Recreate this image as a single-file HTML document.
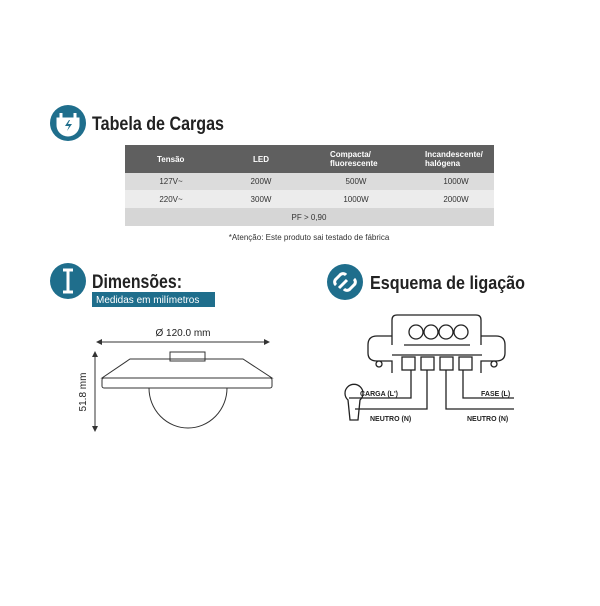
<!DOCTYPE html>
<html><head><meta charset="utf-8"><style>
body{margin:0;background:#fff;width:600px;height:601px;overflow:hidden;font-family:"Liberation Sans",sans-serif}
</style></head><body>
<svg width="600" height="601" xmlns="http://www.w3.org/2000/svg" font-family="Liberation Sans, sans-serif">
<!-- Tabela -->
<circle cx="68" cy="123" r="18" fill="#1f6e8c"/>
<path d="M61 113v6M75 113v6M58 119h20v6a10 10 0 0 1-20 0z" stroke="#fff" stroke-width="3" fill="#fff"/>
<path d="M69 120l-4 6h4l-2 5 5-7h-4l2-4z" fill="#1f6e8c"/>
<text x="92" y="130" font-size="19" font-weight="bold" fill="#222" textLength="132" lengthAdjust="spacingAndGlyphs">Tabela de Cargas</text>
<rect x="125" y="145" width="369" height="28" fill="#5f5f5f"/>
<rect x="125" y="173" width="369" height="17" fill="#dcdcdc"/>
<rect x="125" y="190" width="369" height="18" fill="#ececec"/>
<rect x="125" y="208" width="369" height="18" fill="#d6d6d6"/>
<g font-size="8" fill="#fff" font-weight="bold">
<text x="157" y="162">Tensão</text><text x="253" y="162">LED</text>
<text x="330" y="157">Compacta/</text><text x="330" y="166">fluorescente</text>
<text x="425" y="157">Incandescente/</text><text x="425" y="166">halógena</text></g>
<g font-size="8" fill="#333" text-anchor="middle">
<text x="171" y="184">127V~</text><text x="261" y="184">200W</text><text x="356" y="184">500W</text><text x="456" y="184">1000W</text>
<text x="171" y="202">220V~</text><text x="261" y="202">300W</text><text x="356" y="202">1000W</text><text x="456" y="202">2000W</text>
<text x="309" y="220">PF &gt; 0,90</text>
<text x="309" y="240">*Atenção: Este produto sai testado de fábrica</text></g>
<!-- Dimensoes -->
<circle cx="68" cy="281" r="18" fill="#1f6e8c"/>
<path d="M68 270v22M63 270h10M63 292h10" stroke="#fff" stroke-width="3"/>
<text x="92" y="288" font-size="19" font-weight="bold" fill="#222" textLength="90" lengthAdjust="spacingAndGlyphs">Dimensões:</text>
<rect x="92" y="292" width="123" height="15" fill="#1f6e8c"/>
<text x="96" y="303" font-size="10" fill="#fff">Medidas em milímetros</text>
<text x="183" y="336" font-size="10" fill="#222" text-anchor="middle">Ø 120.0 mm</text>
<path d="M98 342h170M95 354v76" stroke="#333" stroke-width="1"/>
<path d="M96 342l6-3v6zM270 342l-6-3v6zM95 351l-3 6h6zM95 432l-3-6h6z" fill="#333"/>
<text transform="translate(86 392) rotate(-90)" font-size="10" fill="#222" text-anchor="middle">51.8 mm</text>
<g fill="none" stroke="#333" stroke-width="1">
<rect x="170" y="352" width="35" height="9"/>
<path d="M130 359h113l29 19H102z"/>
<rect x="102" y="378" width="170" height="10" rx="2"/>
<path d="M149 388a39 40 0 0 0 78 0"/>
</g>
<!-- Esquema -->
<circle cx="345" cy="282" r="18" fill="#1f6e8c"/>
<path d="M339 288l8-8M336 285a4 4 0 0 1 0-6l4-4a4 4 0 0 1 6 0M354 279a4 4 0 0 1 0 6l-4 4a4 4 0 0 1-6 0" stroke="#fff" stroke-width="3" fill="none"/>
<text x="370" y="289" font-size="18" font-weight="bold" fill="#222" textLength="155" lengthAdjust="spacingAndGlyphs">Esquema de ligação</text>
<g fill="none" stroke="#222" stroke-width="1.3">
<path d="M392 345v-25q0-5 5-5h79q5 0 5 5v25"/>
<path d="M392 336h-15q-9 0-9 9v8q0 8 9 8h15v12M481 336h15q9 0 9 9v8q0 8-9 8h-15v12"/>
<circle cx="416" cy="332" r="7"/><circle cx="431" cy="332" r="7"/><circle cx="446" cy="332" r="7"/><circle cx="461" cy="332" r="7"/>
<path d="M404 345h66M392 355h90"/>
<circle cx="379" cy="364" r="3"/><circle cx="494" cy="364" r="3"/>
<rect x="402" y="357" width="13" height="13"/><rect x="421" y="357" width="13" height="13"/><rect x="440" y="357" width="13" height="13"/><rect x="459" y="357" width="13" height="13"/>
<path d="M411 370v28h-62M427 370v39h-72M446 370v39h68M463 370v28h51"/>
<path d="M348 400a9 9 0 1 1 12 0l-2 20h-8z"/>
</g>
<g font-size="7" font-weight="bold" fill="#222">
<text x="360" y="396">CARGA (L')</text><text x="370" y="421">NEUTRO (N)</text>
<text x="481" y="396">FASE (L)</text><text x="467" y="421">NEUTRO (N)</text></g>
</svg>
</body></html>
